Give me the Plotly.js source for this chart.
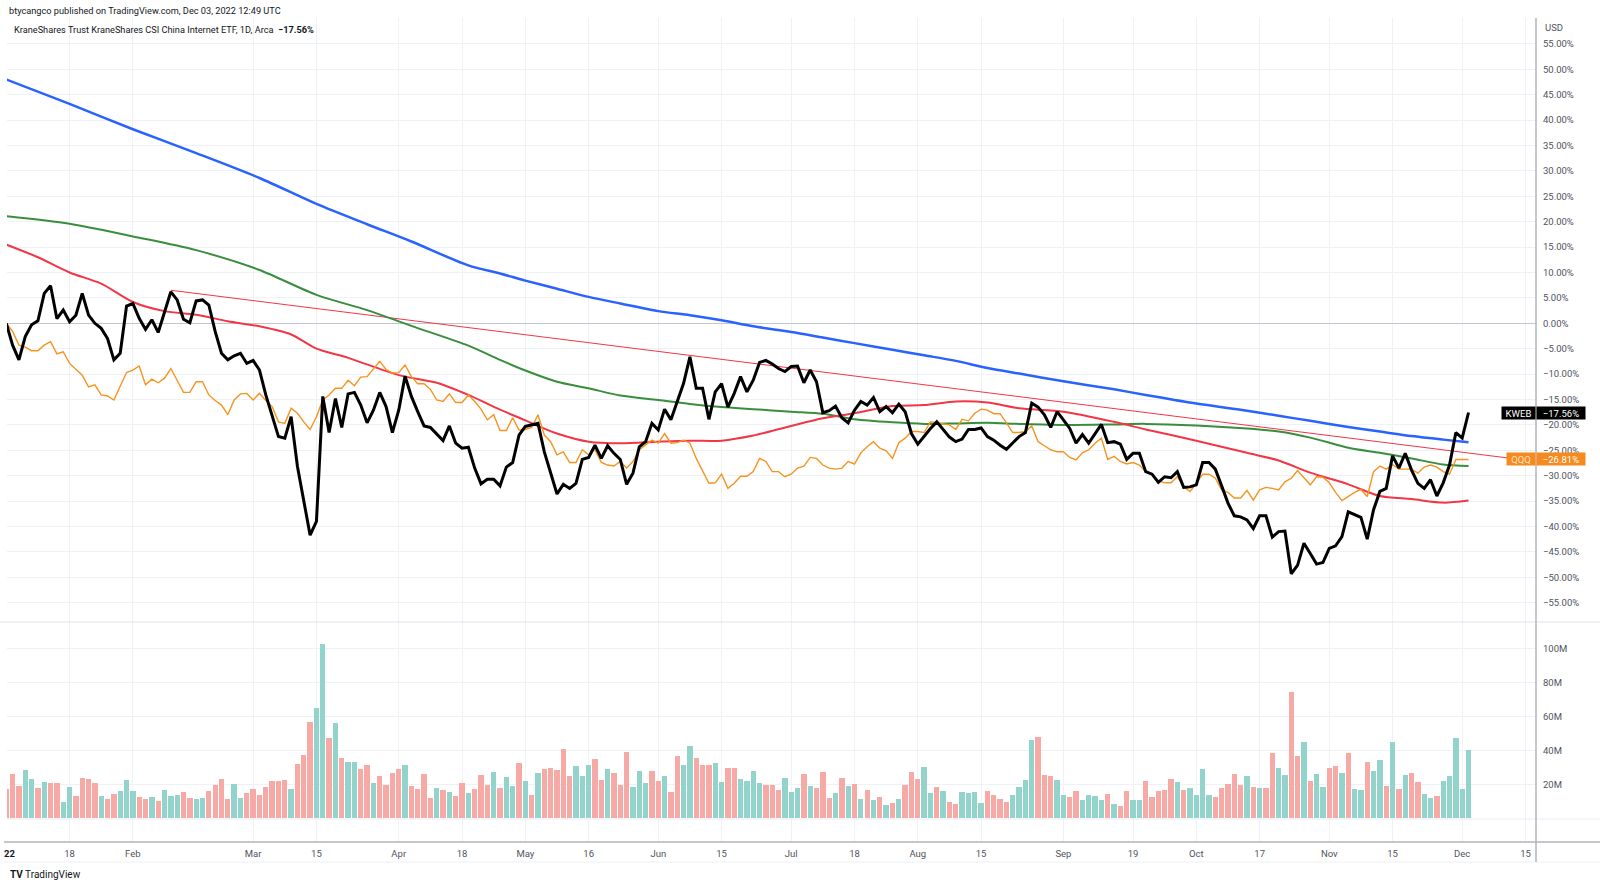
<!DOCTYPE html>
<html>
<head>
<meta charset="utf-8">
<script src="https://cdn.plot.ly/plotly-3.0.1.min.js"></script>
<style>
  html, body { margin: 0; padding: 0; background: #ffffff; }
  #chart { width: 1600px; height: 888px; }
</style>
</head>
<body>
<div id="chart"></div>
<script>
// ---- Trading calendar (2022 sessions shown on the chart) ----
const tradingDays = [
  ['01', [3,4,5,6,7,10,11,12,13,14,18,19,20,21,24,25,26,27,28,31]],
  ['02', [1,2,3,4,7,8,9,10,11,14,15,16,17,18,22,23,24,25,28]],
  ['03', [1,2,3,4,7,8,9,10,11,14,15,16,17,18,21,22,23,24,25,28,29,30,31]],
  ['04', [1,4,5,6,7,8,11,12,13,14,18,19,20,21,22,25,26,27,28,29]],
  ['05', [2,3,4,5,6,9,10,11,12,13,16,17,18,19,20,23,24,25,26,27,31]],
  ['06', [1,2,3,6,7,8,9,10,13,14,15,16,17,21,22,23,24,27,28,29,30]],
  ['07', [1,5,6,7,8,11,12,13,14,15,18,19,20,21,22,25,26,27,28,29]],
  ['08', [1,2,3,4,5,8,9,10,11,12,15,16,17,18,19,22,23,24,25,26,29,30,31]],
  ['09', [1,2,6,7,8,9,12,13,14,15,16,19,20,21,22,23,26,27,28,29,30]],
  ['10', [3,4,5,6,7,10,11,12,13,14,17,18,19,20,21,24,25,26,27,28,31]],
  ['11', [1,2,3,4,7,8,9,10,11,14,15,16,17,18,21,22,23,25,28,29,30]],
  ['12', [1,2]]
];
const holidays = ['2022-01-17','2022-02-21','2022-04-15','2022-05-30','2022-06-20','2022-07-04','2022-09-05','2022-11-24'];

// ---- KWEB % change (black) ----
const kweb = [
  0,-4.3,-7.2,-2.6,-0.3,0.5,5.9,7.4,0.9,2.6,0.3,1.6,5.9,1.6,0.0,-1.0,-3.0,-7.2,-5.9,3.4,
  3.9,1.0,-1.2,0.7,-1.8,2.3,6.2,4.6,0.8,0.1,4.4,4.6,3.6,-1.6,-5.9,-7.2,-6.4,-5.9,-7.9,
  -7.3,-9.2,-14.1,-18.4,-22.3,-22.6,-18.4,-28.2,-34.8,-41.7,-39.0,-14.4,-21.5,-14.8,-20.5,-13.9,-13.6,-16.1,-19.6,-17.1,-13.6,-16.4,-21.5,
  -17.1,-10.4,-14.4,-17.4,-20.2,-20.5,-21.7,-23.1,-20.2,-23.6,-24.6,-24.4,-28.5,-31.6,-30.7,-30.7,-32.0,-28.3,-27.4,-22.0,
  -20.3,-20.0,-19.7,-25.3,-29.5,-33.6,-31.7,-32.5,-31.5,-26.8,-26.4,-24.0,-26.6,-24.1,-25.6,-26.8,-31.7,-29.5,-24.3,-23.3,-19.7,
  -21.0,-16.9,-19.0,-15.4,-11.8,-6.6,-12.8,-12.8,-18.9,-13.5,-11.9,-16.5,-13.8,-10.5,-13.5,-11.2,-7.7,-7.3,-8.0,-8.9,-9.5,
  -8.5,-8.4,-11.7,-9.2,-11.5,-17.6,-17.2,-16.3,-18.6,-19.6,-17.1,-15.4,-16.1,-14.6,-17.4,-16.4,-17.6,-15.9,-17.4,-21.7,
  -23.8,-22.2,-20.7,-19.4,-21.0,-22.4,-23.3,-22.8,-20.9,-20.9,-20.6,-22.3,-23.0,-24.0,-24.8,-23.6,-22.3,-21.5,-15.7,-16.5,-18.0,-20.5,-17.4,
  -19.0,-20.7,-23.6,-21.9,-23.6,-21.7,-19.9,-23.5,-23.3,-23.8,-26.8,-25.6,-25.6,-29.2,-29.7,-31.3,-30.2,-30.4,-29.2,-32.3,-32.2,
  -31.8,-27.4,-27.4,-28.7,-32.0,-35.4,-37.9,-38.1,-38.7,-40.4,-37.9,-37.9,-42.1,-41.0,-40.9,-49.3,-47.6,-43.3,-45.3,-47.4,-47.1,
  -44.3,-43.8,-42.0,-37.1,-37.7,-38.2,-42.5,-36.7,-33.1,-32.5,-26.1,-28.5,-25.6,-28.9,-31.5,-32.5,-30.8,-34.0,-31.4,-27.9,-21.5,
  -22.6,-17.56
];

// ---- QQQ % change (orange) ----
const qqq = [
  0,-1.6,-4.3,-4.7,-5.4,-5.4,-4.3,-3.6,-6.0,-5.6,-7.9,-9.1,-10.2,-12.5,-12.1,-14.1,-14.3,-15.1,-12.5,-9.7,
  -9.2,-8.4,-12.1,-11.0,-11.7,-10.8,-8.9,-11.2,-13.6,-13.6,-11.5,-11.5,-14.1,-15.2,-16.1,-18.0,-15.1,-13.9,-13.8,
  -15.1,-13.8,-15.2,-16.4,-19.4,-19.7,-16.7,-17.7,-19.4,-20.9,-18.4,-15.1,-14.1,-12.8,-12.8,-11.2,-12.3,-10.6,-10.5,-9.1,-7.5,-9.1,-9.8,
  -9.7,-8.2,-10.5,-11.9,-11.9,-13.0,-15.1,-15.4,-13.9,-15.6,-15.6,-14.1,-15.4,-16.9,-19.0,-18.0,-21.1,-21.1,-18.6,-21.0,
  -20.9,-20.5,-18.0,-22.0,-23.3,-25.9,-25.3,-27.4,-27.4,-24.9,-25.9,-24.9,-27.4,-27.9,-28.1,-27.2,-28.5,-27.2,-24.9,-24.0,-23.0,
  -23.6,-21.7,-23.6,-23.5,-23.0,-23.6,-26.6,-28.9,-31.5,-31.4,-29.7,-32.5,-31.5,-30.1,-30.1,-29.2,-26.6,-27.2,-29.2,-29.2,-30.2,
  -29.7,-28.5,-28.1,-26.4,-26.6,-27.9,-28.5,-28.7,-28.5,-27.2,-27.7,-25.5,-24.3,-23.3,-24.6,-25.1,-26.6,-23.5,-22.6,-21.3,
  -21.3,-21.5,-19.4,-19.6,-19.8,-20.0,-20.9,-18.9,-19.2,-17.7,-16.9,-17.1,-17.8,-17.8,-19.6,-21.5,-21.5,-21.3,-20.2,-23.3,-24.1,-24.9,-25.3,
  -25.3,-26.4,-26.9,-25.5,-24.9,-23.6,-22.6,-26.8,-26.2,-27.2,-27.7,-27.4,-27.9,-29.2,-29.7,-31.0,-31.4,-31.4,-30.2,-32.2,-33.1,
  -31.5,-29.7,-29.7,-30.5,-32.8,-33.3,-34.4,-34.4,-32.9,-34.8,-32.8,-32.3,-32.5,-32.8,-31.2,-30.5,-29.0,-30.5,-31.8,-30.2,-30.3,
  -31.4,-33.3,-34.9,-34.1,-33.3,-32.7,-34.1,-29.2,-28.1,-28.7,-27.8,-28.7,-28.7,-28.7,-29.5,-28.3,-27.9,-28.3,-29.2,-29.7,-26.8,
  -26.8,-26.81
];

// ---- Volume (millions) and bar direction (u = up, d = down), 10 sessions per group ----
const volume = [
  17.1,25.9,19.0,28.4,23.3,17.6,21.4,20.6,20.8,9.8,18.6,12.9,23.9,23.1,21.0,12.9,11.4,14.3,16.3,22.4,
  16.3,12.5,11.6,12.4,10.2,16.7,13.3,13.5,15.3,12.2,11.4,12.2,16.3,19.6,22.9,11.6,20.2,11.8,14.7,
  17.3,13.7,18.4,21.8,21.8,22.4,17.1,31.8,37.3,56.5,65.1,102.7,47.5,56.3,35.3,32.9,33.3,29.0,31.4,20.8,25.1,19.4,26.9,
  29.0,31.4,18.8,17.1,25.9,12.0,17.6,16.5,15.3,13.1,21.0,15.1,17.3,25.3,19.6,27.1,17.8,24.1,18.8,32.4,
  21.8,13.5,26.5,28.8,29.4,28.6,40.6,25.1,31.0,24.7,31.4,34.7,22.5,28.8,26.9,19.6,39.0,18.4,27.8,20.8,27.8,
  21.8,24.7,15.7,36.7,31.4,42.7,35.7,31.2,31.6,32.5,21.2,29.8,29.8,22.9,22.0,28.0,20.6,19.8,19.4,16.7,23.9,
  15.5,18.0,25.9,19.2,18.0,27.5,11.8,15.1,23.9,18.8,20.2,11.4,16.9,10.8,12.4,7.8,9.0,11.6,19.6,27.1,
  23.1,30.2,14.9,18.2,16.1,9.6,8.2,15.5,15.1,15.3,9.2,16.3,13.7,11.4,9.4,13.9,18.2,22.4,46.1,48.0,25.7,25.1,22.4,
  13.9,12.5,15.9,11.0,13.7,13.1,10.6,14.3,8.4,7.3,15.9,10.8,10.6,22.2,12.7,16.1,16.9,22.9,21.4,16.9,17.6,
  13.7,28.8,13.5,12.5,17.6,20.4,25.9,19.8,24.7,18.6,17.8,17.8,38.4,29.4,25.5,74.3,36.5,44.7,22.2,26.1,18.6,
  29.4,30.8,26.9,38.4,17.1,16.7,32.9,28.0,34.3,19.0,44.7,17.5,25.5,26.9,21.6,14.3,11.8,12.9,22.2,25.1,47.1,
  17.3,40.4
];
const volDir = [
  'ddduududdu','uddddudduu','udduduuudd','uudddduudd','dddddudddu',
  'ududuuddud','ddduddddud','uddudddudu','udududdddd','uuuddudddu',
  'uuddudduud','dduudduuuu','ddduuududd','dududududu','duddduudud',
  'duuuuddddu','uuuddduudd','uuuududduu','ddddduduuu','udddddudud',
  'duudduduud','duduuduudu','dudduuduuu','uu'
].join('').split('');

// ---- Moving averages (sampled from the chart) ----
const maSlowDates = ['01-03','01-18','02-01','02-15','03-02','03-15','03-25','04-05','04-19','04-26','05-02','05-09','05-16','05-23',
  '06-01','06-08','06-15','06-23','07-01','07-11','07-18','07-26','08-02','08-09','08-16','08-23','09-01','09-14','09-21',
  '10-03','10-13','10-20','10-27','11-04','11-11','11-18','11-28','12-02'];
const maBlue = [48.0,43.2,38.2,33.5,28.6,23.5,19.5,16.1,11.4,9.8,8.4,6.8,5.2,3.9,
  2.4,1.6,0.6,-0.6,-1.7,-2.8,-3.9,-5.2,-6.3,-7.4,-8.8,-9.9,-11.4,-13.0,-14.1,
  -15.8,-17.2,-18.2,-19.2,-20.4,-21.3,-22.2,-22.9,-23.4];
const maGreen = [21.1,19.6,17.1,14.4,10.5,5.6,2.6,-0.5,-4.4,-7.2,-9.3,-11.5,-12.8,-14.2,
  -15.1,-15.9,-16.5,-16.9,-17.4,-17.8,-18.9,-19.5,-19.8,-19.7,-19.6,-19.8,-20.0,-19.9,-19.8,
  -20.1,-20.7,-21.3,-22.5,-24.5,-25.5,-26.6,-27.8,-28.1];
const maFastDates = ['01-03','01-10','01-18','01-25','02-01','02-08','02-15','02-23','03-02','03-09','03-15','03-22','04-01','04-11',
  '04-19','04-26','05-02','05-09','05-16','05-23','06-01','06-08','06-15','06-23','07-01','07-11','07-18','07-26','08-02',
  '08-09','08-16','08-23','09-01','09-14','09-21','10-03','10-13','10-20','10-27','11-04','11-11','11-18','11-28','12-02'];
const maRed = [15.5,13.0,10.0,7.8,4.2,2.4,1.7,0.4,-0.6,-2.2,-5.0,-6.8,-10.2,-11.7,
  -14.1,-17.0,-19.1,-21.7,-23.3,-23.6,-23.3,-23.1,-23.1,-22.1,-20.2,-18.7,-17.7,-16.3,-16.1,
  -15.4,-15.6,-16.7,-17.4,-19.4,-20.9,-23.1,-25.5,-27.0,-29.4,-31.7,-34.0,-34.6,-35.3,-34.9];

// ---- Drawn trendline ----
const trendDates = ['02-09','12-16'];
const trendValues = [6.5, -27.1];

// ---- Axis ticks ----
const xTickDates = ['01-18','02-01','03-01','03-15','04-01','04-18','05-02','05-16','06-01','06-15','07-01','07-18',
  '08-01','08-15','09-01','09-19','10-03','10-17','11-01','11-15','12-01','12-15'];
const xTickLabels = ['18','Feb','Mar','15','Apr','18','May','16','Jun','15','Jul','18','Aug','15','Sep','19','Oct','17','Nov','15','Dec','15'];
const pctTicks = [55,50,45,40,35,30,25,20,15,10,5,0,-5,-10,-15,-20,-25,-30,-35,-40,-45,-50,-55];
const volTicks = [20,40,60,80,100];

// ---------------------------------------------------------------
const noon = md => `2022-${md} 12:00`;
const dates = [];
tradingDays.forEach(([m, ds]) => ds.forEach(d => dates.push(`2022-${m}-${String(d).padStart(2, '0')} 12:00`)));

const fmtPct = v => (v < 0 ? '\u2212' : '') + Math.abs(v).toFixed(2) + '%';

const UP = '#92d3cb', DOWN = '#f7a9a6';
const FONT = 'Roboto, "Noto Sans", sans-serif';

// pixel helpers for layout (plot area: x 7..1536, y 18..842)
const PL = 7, PR = 1536, PT = 18, PB = 842;
const px = x => (x - PL) / (PR - PL);
const py = y => (PB - y) / (PB - PT);

const traces = [
  {
    type: 'bar', x: dates, y: volume, xaxis: 'x', yaxis: 'y2',
    width: 0.84 * 86400000,
    marker: { color: volDir.map(d => d === 'u' ? UP : DOWN), line: { width: 0 } },
    hoverinfo: 'skip'
  },
  {
    type: 'scatter', mode: 'lines', x: trendDates.map(noon), y: trendValues, yaxis: 'y',
    line: { color: '#f23645', width: 1 }, hoverinfo: 'skip'
  },
  {
    type: 'scatter', mode: 'lines', x: maSlowDates.map(noon), y: maBlue, yaxis: 'y',
    line: { color: '#2962ff', width: 2.5, shape: 'spline', smoothing: 0.8 }, hoverinfo: 'skip'
  },
  {
    type: 'scatter', mode: 'lines', x: maSlowDates.map(noon), y: maGreen, yaxis: 'y',
    line: { color: '#388e3c', width: 2, shape: 'spline', smoothing: 0.8 }, hoverinfo: 'skip'
  },
  {
    type: 'scatter', mode: 'lines', x: maFastDates.map(noon), y: maRed, yaxis: 'y',
    line: { color: '#f23645', width: 2, shape: 'spline', smoothing: 0.8 }, hoverinfo: 'skip'
  },
  {
    type: 'scatter', mode: 'lines', x: dates, y: qqq, yaxis: 'y',
    line: { color: '#f7931e', width: 1.4 }, hoverinfo: 'skip'
  },
  {
    type: 'scatter', mode: 'lines', x: dates, y: kweb, yaxis: 'y',
    line: { color: '#000000', width: 3 }, hoverinfo: 'skip'
  }
];

const GRID = '#eef1f6';
const AXIS_TEXT = '#50535e';

const annotations = [
  { xref: 'paper', yref: 'paper', x: px(7), y: py(11), xanchor: 'left', yanchor: 'middle', showarrow: false,
    text: 'btycangco published on TradingView.com, Dec 03, 2022 12:49 UTC',
    font: { family: FONT, size: 9.2, color: '#131722' } },
  { xref: 'paper', yref: 'paper', x: px(12), y: py(29.5), xanchor: 'left', yanchor: 'middle', showarrow: false,
    text: 'KraneShares Trust KraneShares CSI China Internet ETF, 1D, Arca&nbsp;&nbsp;<b>' + fmtPct(kweb[kweb.length - 1]) + '</b>',
    font: { family: FONT, size: 9.2, color: '#131722' } },
  { xref: 'paper', yref: 'paper', x: px(1543), y: py(28), xanchor: 'left', yanchor: 'middle', showarrow: false,
    text: 'USD', font: { family: FONT, size: 9.5, color: AXIS_TEXT } },
  { xref: 'paper', yref: 'paper', x: px(9), y: py(853), xanchor: 'center', yanchor: 'middle', showarrow: false,
    text: '<b>22</b>', font: { family: FONT, size: 9.5, color: '#131722' } },
  { xref: 'paper', yref: 'paper', x: px(8), y: py(875), xanchor: 'left', yanchor: 'middle', showarrow: false,
    text: '<b>TV</b> TradingView', font: { family: FONT, size: 10, color: '#131722' } },
  // last-value labels
  { xref: 'paper', yref: 'y', x: px(1518.5), y: kweb[kweb.length - 1], xanchor: 'center', yanchor: 'middle', showarrow: false,
    text: 'KWEB', bgcolor: '#000000', width: 33, height: 12, borderpad: 0,
    font: { family: FONT, size: 9.5, color: '#ffffff' } },
  { xref: 'paper', yref: 'y', x: px(1560.5), y: kweb[kweb.length - 1], xanchor: 'center', yanchor: 'middle', showarrow: false,
    text: fmtPct(kweb[kweb.length - 1]), bgcolor: '#000000', width: 48, height: 12, borderpad: 0,
    font: { family: FONT, size: 9.5, color: '#ffffff' } },
  { xref: 'paper', yref: 'y', x: px(1521), y: qqq[qqq.length - 1], xanchor: 'center', yanchor: 'middle', showarrow: false,
    text: 'QQQ', bgcolor: '#f68a1e', width: 28, height: 12, borderpad: 0,
    font: { family: FONT, size: 9.5, color: '#fde3c8' } },
  { xref: 'paper', yref: 'y', x: px(1560.5), y: qqq[qqq.length - 1], xanchor: 'center', yanchor: 'middle', showarrow: false,
    text: fmtPct(qqq[qqq.length - 1]), bgcolor: '#f68a1e', width: 48, height: 12, borderpad: 0,
    font: { family: FONT, size: 9.5, color: '#ffffff' } }
];

const shapes = [
  { type: 'line', xref: 'paper', yref: 'paper', x0: px(0), x1: px(1600), y0: py(622), y1: py(622),
    line: { color: '#e0e3eb', width: 1 } },
  { type: 'line', xref: 'paper', yref: 'paper', x0: px(PL), x1: px(1600), y0: py(819), y1: py(819),
    line: { color: '#e9ecf2', width: 1 } },
  { type: 'line', xref: 'paper', yref: 'paper', x0: px(4), x1: px(1600), y0: py(842), y1: py(842),
    line: { color: '#b2b5be', width: 1.5 } },
  { type: 'line', xref: 'paper', yref: 'paper', x0: px(4), x1: px(1600), y0: py(862), y1: py(862),
    line: { color: '#eef0f4', width: 1 } },
  { type: 'line', xref: 'paper', yref: 'paper', x0: px(PR), x1: px(PR), y0: py(862), y1: py(PT),
    line: { color: '#b2b5be', width: 1.5 } }
];

const layout = {
  width: 1600, height: 888,
  margin: { l: PL, r: 1600 - PR, t: PT, b: 888 - PB, pad: 0 },
  paper_bgcolor: '#ffffff', plot_bgcolor: '#ffffff',
  showlegend: false,
  bargap: 0,
  font: { family: FONT, size: 9.5, color: AXIS_TEXT },
  xaxis: {
    type: 'date',
    range: ['2022-01-03 14:47', '2022-12-19 03:50'],
    rangebreaks: [{ bounds: ['sat', 'mon'] }, { values: holidays }],
    tickmode: 'array',
    tickvals: xTickDates.map(noon),
    ticktext: xTickLabels,
    showgrid: true, gridcolor: GRID, gridwidth: 1,
    zeroline: false, showline: false, ticks: '',
    ticklabelstandoff: 4,
    tickfont: { family: FONT, size: 9.5, color: AXIS_TEXT },
    anchor: 'y2', fixedrange: true
  },
  yaxis: {
    domain: [py(622), 1],
    range: [(323.3 - 622) / 5.08, (323.3 - PT) / 5.08],
    side: 'right', anchor: 'x',
    tickmode: 'array', tickvals: pctTicks, ticktext: pctTicks.map(fmtPct),
    showgrid: true, gridcolor: GRID, gridwidth: 1,
    zeroline: true, zerolinecolor: '#c3c6cf', zerolinewidth: 1,
    showline: false, ticks: '', ticklabelstandoff: 6,
    tickfont: { family: FONT, size: 9.5, color: AXIS_TEXT },
    fixedrange: true
  },
  yaxis2: {
    domain: [0, py(622)],
    range: [(818.3 - 842) / 34 * 20, (818.3 - 622) / 34 * 20],
    side: 'right', anchor: 'x',
    tickmode: 'array', tickvals: volTicks, ticktext: volTicks.map(v => v + 'M'),
    showgrid: true, gridcolor: GRID, gridwidth: 1,
    zeroline: false, showline: false, ticks: '', ticklabelstandoff: 6,
    tickfont: { family: FONT, size: 9.5, color: AXIS_TEXT },
    fixedrange: true
  },
  annotations: annotations,
  shapes: shapes
};

Plotly.newPlot('chart', traces, layout, { displayModeBar: false, staticPlot: true });
</script>
</body>
</html>
